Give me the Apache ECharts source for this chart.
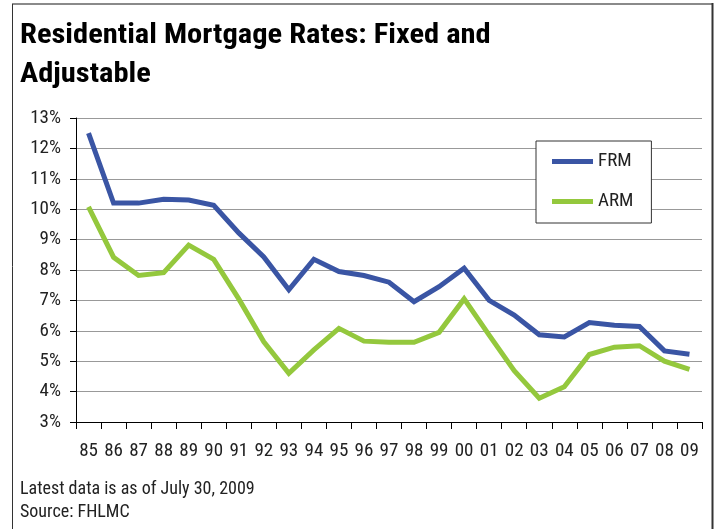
<!DOCTYPE html>
<html>
<head>
<meta charset="utf-8">
<title>Residential Mortgage Rates</title>
<script src="https://cdn.jsdelivr.net/npm/echarts@6/dist/echarts.min.js"></script>
<style>
  html, body { margin: 0; padding: 0; background: #fff; }
  #chart { width: 715px; height: 529px; }
</style>
</head>
<body>
<div id="chart"></div>
<script>
// Years (two-digit labels), 1985 through 2009
const years = ['85','86','87','88','89','90','91','92','93','94','95','96','97','98','99','00','01','02','03','04','05','06','07','08','09'];

// 30-year fixed-rate mortgage, percent
const frmRates = [12.50, 10.20, 10.20, 10.33, 10.30, 10.13, 9.22, 8.43, 7.35, 8.35, 7.95, 7.82, 7.60, 6.96, 7.45, 8.06, 7.00, 6.52, 5.87, 5.80, 6.27, 6.18, 6.14, 5.34, 5.23];

// Adjustable-rate mortgage, percent
const armRates = [10.08, 8.42, 7.82, 7.91, 8.82, 8.35, 7.05, 5.64, 4.60, 5.37, 6.08, 5.66, 5.62, 5.62, 5.95, 7.05, 5.86, 4.69, 3.78, 4.16, 5.22, 5.46, 5.51, 5.00, 4.73];

// Percent axis ticks
const yTicks = { min: 3, max: 13, step: 1 };

const seriesNames = ['FRM', 'ARM'];
const seriesColors = ['#3a55a4', '#94c83d'];

const titleLines = ['Residential Mortgage Rates: Fixed and', 'Adjustable'];
const footnotes = ['Latest data is as of July 30, 2009', 'Source: FHLMC'];

const FONT = '"Liberation Sans Narrow", "Arial Narrow", "Roboto Condensed", sans-serif';

const chart = echarts.init(document.getElementById('chart'), null, { renderer: 'canvas' });

chart.setOption({
  backgroundColor: '#ffffff',
  animation: false,
  legend: {
    orient: 'vertical',
    left: 536,
    top: 141,
    data: seriesNames,
    icon: 'rect',
    itemWidth: 41,
    itemHeight: 5,
    itemGap: 21,
    padding: [11, 18, 12, 16],
    backgroundColor: '#fff',
    borderColor: '#333',
    borderWidth: 1,
    textStyle: {
      fontFamily: FONT,
      fontSize: 19,
      color: '#222'
    }
  },
  grid: {
    left: 76,
    right: 13,
    top: 118,
    bottom: 107,
    containLabel: false
  },
  xAxis: {
    type: 'category',
    data: years,
    boundaryGap: true,
    axisLine: { show: true, lineStyle: { color: '#000', width: 1 } },
    axisTick: { show: true, length: 7, interval: 0, lineStyle: { color: '#000' } },
    axisLabel: {
      interval: 0,
      margin: 20,
      fontFamily: FONT,
      fontSize: 19,
      color: '#222'
    },
    splitLine: { show: false }
  },
  yAxis: {
    type: 'value',
    min: yTicks.min,
    max: yTicks.max,
    interval: yTicks.step,
    axisLine: { show: true, lineStyle: { color: '#000', width: 1 } },
    axisTick: { show: true, length: 6, lineStyle: { color: '#000' } },
    axisLabel: {
      formatter: '{value}%',
      margin: 15,
      fontFamily: FONT,
      fontSize: 19,
      color: '#222'
    },
    splitLine: { show: true, lineStyle: { color: '#999', width: 1 } }
  },
  series: [
    {
      name: seriesNames[0],
      type: 'line',
      data: frmRates,
      symbol: 'none',
      lineStyle: { color: seriesColors[0], width: 5, join: 'miter' },
      itemStyle: { color: seriesColors[0] },
      z: 3
    },
    {
      name: seriesNames[1],
      type: 'line',
      data: armRates,
      symbol: 'none',
      lineStyle: { color: seriesColors[1], width: 5, join: 'miter' },
      itemStyle: { color: seriesColors[1] },
      z: 2
    }
  ],
  graphic: [
    // frame around the panel
    { type: 'line', shape: { x1: 12, y1: 4, x2: 713, y2: 4 }, style: { stroke: '#8a8a8a', lineWidth: 2 }, silent: true },
    { type: 'line', shape: { x1: 12.5, y1: 4, x2: 12.5, y2: 529 }, style: { stroke: '#333', lineWidth: 1 }, silent: true },
    { type: 'line', shape: { x1: 712.5, y1: 3, x2: 712.5, y2: 529 }, style: { stroke: '#333', lineWidth: 2 }, silent: true },
    // two-line heading, widened a little to the bold condensed face's set width
    {
      type: 'text', x: 20, y: 36, scaleX: 1.09, originX: 0,
      style: { text: titleLines[0], font: 'bold 28px ' + FONT, fill: '#000', verticalAlign: 'middle' }
    },
    {
      type: 'text', x: 20, y: 75, scaleX: 1.09, originX: 0,
      style: { text: titleLines[1], font: 'bold 28px ' + FONT, fill: '#000', verticalAlign: 'middle' }
    },
    // footnotes
    {
      type: 'text', x: 20, y: 489,
      style: { text: footnotes[0], font: '18px ' + FONT, fill: '#222', verticalAlign: 'middle' }
    },
    {
      type: 'text', x: 20, y: 512,
      style: { text: footnotes[1], font: '18px ' + FONT, fill: '#222', verticalAlign: 'middle' }
    }
  ]
});
</script>
</body>
</html>
